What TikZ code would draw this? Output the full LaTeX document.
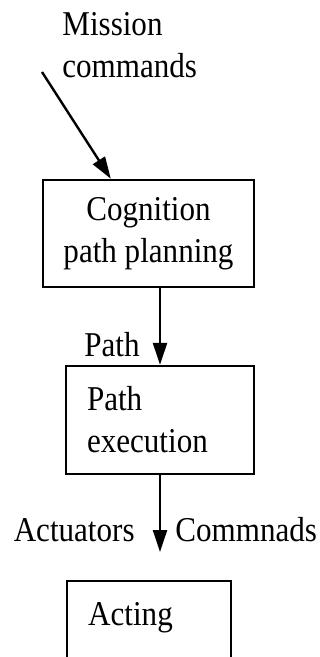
\documentclass[tikz,border=0pt]{standalone}
\usepackage{fontspec}
\setmainfont[FakeStretch=0.893]{Liberation Serif}
\usetikzlibrary{arrows.meta,positioning}
\tikzset{block/.style={draw,line width=1.2pt},
 flow/.style={-{Triangle[width=7pt,length=11pt]},line width=1.2pt},
 every node/.style={font=\fontsize{17.4}{21}\selectfont}}

\begin{document}
\begin{tikzpicture}[x=0.5pt,y=-0.5pt]
\useasboundingbox (0,0) rectangle (320,657);
\clip (0,0) rectangle (320,657);
\node[block,align=center,inner sep=0pt,minimum width=105.5pt,minimum height=53.5pt] (cog) at (148.5,233.5) {Cognition\\path planning};
\node[block,align=left,text width=73pt,inner xsep=10.5pt,inner ysep=0pt,minimum height=54pt] (exec) at (160,420) {Path\\execution};
\node[block,anchor=north west,align=left,text width=61pt,inner xsep=10.5pt,inner ysep=4pt,text height=18pt,text depth=28pt] (act) at (66,580) {Acting};
\node[anchor=west,align=left,inner sep=0pt] (mission) at (62,45) {Mission\\commands};
\coordinate (cmdstart) at (42,72);
\draw[flow] (cmdstart) -- ([xshift=34.5pt]cog.north west);
\draw[flow] (exec.north |- cog.south) -- (exec.north);
\node[anchor=base east,inner sep=0pt] (pathlbl) at (140,356) {Path};
\coordinate (actend) at (160,552);
\draw[flow] (exec.south) -- (actend);
\node[anchor=base east,inner sep=0pt] (actlbl) at (135,541) {Actuators};
\node[anchor=base west,inner sep=0pt] (cmdlbl) at (175,541) {Commnads};
\end{tikzpicture}
\end{document}
